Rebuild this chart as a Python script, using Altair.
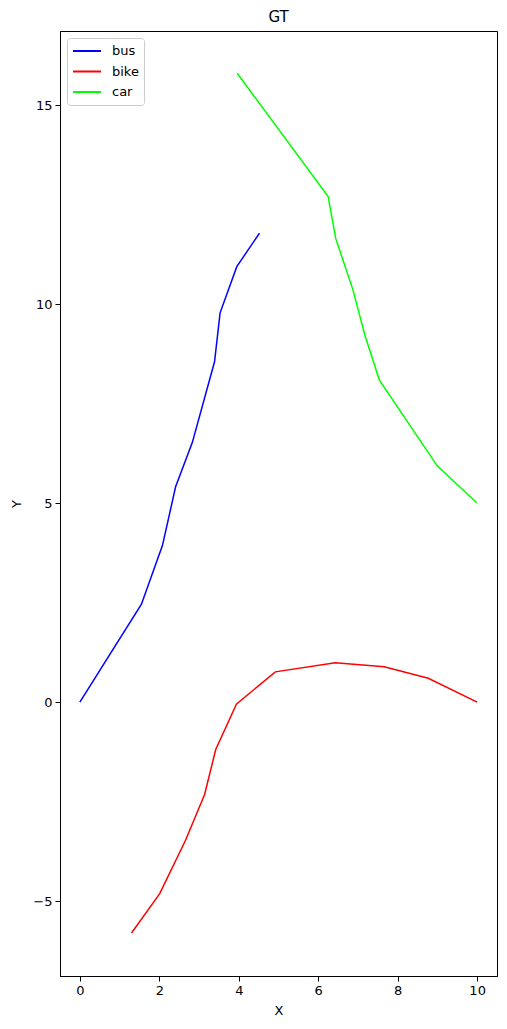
import altair as alt
import pandas as pd

bus_x = [0.0, 1.55, 2.08, 2.41, 2.83, 3.39, 3.53, 3.95, 4.52]
bus_y = [0.0, 2.46, 3.94, 5.41, 6.52, 8.55, 9.78, 10.94, 11.78]

bike_x = [1.30, 2.01, 2.66, 3.14, 3.42, 3.94, 4.92, 6.43, 7.66, 8.77, 10.0]
bike_y = [-5.80, -4.81, -3.47, -2.32, -1.19, -0.05, 0.76, 0.99, 0.89, 0.60, 0.0]

car_x = [3.96, 6.25, 6.44, 6.87, 7.18, 7.54, 9.00, 9.99]
car_y = [15.80, 12.70, 11.65, 10.37, 9.20, 8.09, 5.93, 5.01]

series = ["bus", "bike", "car"]
colors = ["#0000ff", "#ff0000", "#00ff00"]
x_ticks = [0, 2, 4, 6, 8, 10]
y_ticks = [-5, 0, 5, 10, 15]

rows = []
for name, xs, ys in [("bus", bus_x, bus_y), ("bike", bike_x, bike_y), ("car", car_x, car_y)]:
    for i, (xv, yv) in enumerate(zip(xs, ys)):
        rows.append({"series": name, "x": xv, "y": yv, "order": i})
df = pd.DataFrame(rows)

FONT = "DejaVu Sans"

chart = alt.Chart(df).mark_line(strokeWidth=1.5, clip=True).encode(
    x=alt.X("x:Q", scale=alt.Scale(domain=[-0.5, 10.5], nice=False, zero=False),
            axis=alt.Axis(values=x_ticks, title="X", grid=False, format="d", titlePadding=7)),
    y=alt.Y("y:Q", scale=alt.Scale(domain=[-6.88, 16.86], nice=False, zero=False),
            axis=alt.Axis(values=y_ticks, title="Y", grid=False, format="d", titlePadding=9)),
    color=alt.Color("series:N", scale=alt.Scale(domain=series, range=colors),
                    legend=alt.Legend(title=None, orient="none", legendX=7, legendY=7,
                                      symbolType="stroke", symbolSize=784, symbolStrokeWidth=2,
                                      labelFont=FONT, labelFontSize=13, labelColor="black",
                                      clipHeight=16, rowPadding=4.5, padding=5,
                                      strokeColor="#cccccc",
                                      fillColor="white", cornerRadius=3, labelOffset=10)),
    order="order:Q",
    detail="series:N",
).properties(
    width=437, height=945,
    title=alt.TitleParams("GT", font=FONT, fontSize=15, fontWeight="normal", color="black", offset=6),
    autosize=alt.AutoSizeParams(type="none"),
    padding={"left": 52, "top": 23, "right": 2, "bottom": 44},
).configure_view(
    stroke="black", strokeWidth=1
).configure_axis(
    domainColor="black", tickColor="black", tickSize=5, labelFont=FONT, labelFontSize=13,
    labelColor="black", titleFont=FONT, titleFontSize=13, titleColor="black",
    titleFontWeight="normal", labelPadding=3
)

chart.save("out.html", embed_options={"renderer": "svg", "actions": False})
